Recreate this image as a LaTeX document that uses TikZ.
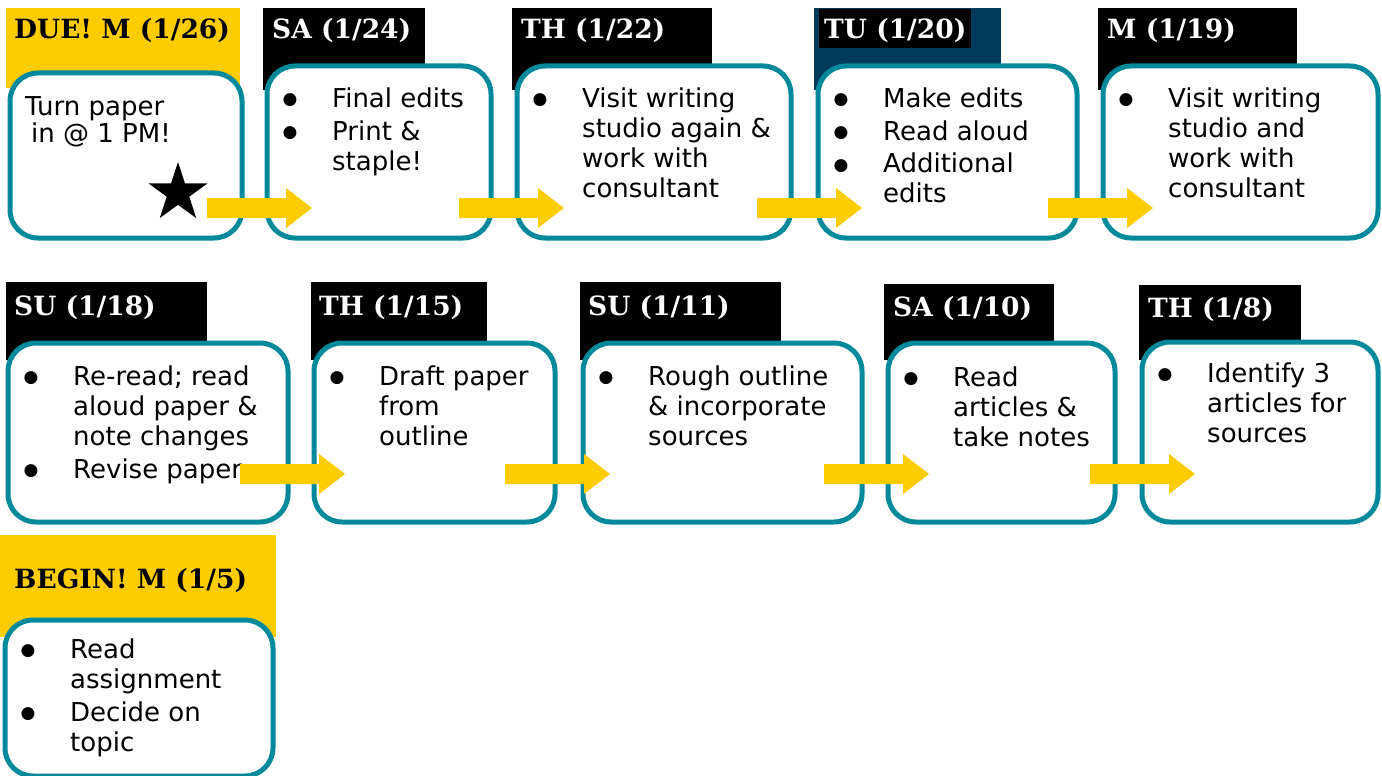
\documentclass[tikz,border=0pt]{standalone}
\usepackage{fontspec}
\usepackage{graphicx}
\setmainfont{DejaVu Sans}
\newfontfamily\hdrfont{DejaVu Serif}
\usetikzlibrary{shapes.geometric}
\definecolor{teal1}{RGB}{0,137,155}
\definecolor{yel}{RGB}{255,204,0}
\definecolor{navy1}{RGB}{0,59,92}
\newcommand{\nl}{\unskip\hfil\break}
\newcommand{\bigbul}{\hspace*{2.5pt}\raisebox{3pt}{\fontsize{17}{17}\selectfont ●}}
\newcommand{\bitem}[1]{\par\hangindent=52pt\hangafter=1\noindent\makebox[52pt][l]{\bigbul}#1}
\newcommand{\rectnode}[6]{\node[hdrrect, fill=#2, minimum width={#5-#3}, minimum height={#6-#4}] (#1) at (#3,#4) {};}
\newcommand{\tb}[5]{\node[tbox, minimum width={#4-#2-5}, minimum height={#5-#3-5}] (#1) at (#2+2.5,#3+2.5) {};}
\newcommand{\yarr}[3]{\coordinate (#1) at (#2,#3); \fill[yel] (#1) ++(0,-10) -- ++(79,0) -- ++(0,-10) -- ++(26,20) -- ++(-26,20) -- ++(0,-10) -- ++(-79,0) -- cycle;}
\newcommand{\btext}[4]{\node[bodytext] (#1) at (#2,#3) {\parbox[t]{320pt}{\raggedright\parskip=3pt #4}};}
\begin{document}
\begin{tikzpicture}[x=1pt,y=-1pt,
 tbox/.style={draw=teal1, line width=5pt, fill=white, rounded corners=28pt, inner sep=0pt, anchor=north west},
 hdrrect/.style={inner sep=0pt, anchor=north west, draw=none},
 hdrtext/.style={inner sep=0pt, anchor=base west, font=\hdrfont\bfseries\fontsize{26.5}{30}\selectfont},
 bodytext/.style={inner sep=0pt, anchor=base west, font=\fontsize{26}{30}\selectfont}
]
\useasboundingbox[fill=white] (0,0) rectangle (1382,776);
% ---- header backgrounds
\rectnode{h1}{yel}{6}{8}{240}{88}
\rectnode{h2}{black}{263}{8}{425}{90}
\rectnode{h3}{black}{512}{8}{712}{90}
\rectnode{h4}{navy1}{814}{8}{1001}{90}
\rectnode{h4b}{black}{819}{9}{971}{48}
\rectnode{h5}{black}{1098}{8}{1297}{90}
\rectnode{h6}{black}{6}{282}{207}{360}
\rectnode{h7}{black}{311}{282}{487}{360}
\rectnode{h8}{black}{580}{282}{781}{360}
\rectnode{h9}{black}{884}{284}{1054}{360}
\rectnode{h10}{black}{1139}{285}{1301}{360}
\rectnode{h11}{yel}{0}{535}{276}{637}
% ---- header texts
\node[hdrtext] (l1) at (14,39) {DUE! M (1/26)};
\node[hdrtext, text=white] (l2) at (272,39) {SA (1/24)};
\node[hdrtext, text=white] (l3) at (521,39) {TH (1/22)};
\node[hdrtext, text=white] (l4) at (824,39) {TU (1/20)};
\node[hdrtext, text=white] (l5) at (1107,39) {M (1/19)};
\node[hdrtext, text=white] (l6) at (14,315) {SU (1/18)};
\node[hdrtext, text=white] (l7) at (319,315) {TH (1/15)};
\node[hdrtext, text=white] (l8) at (588,315) {SU (1/11)};
\node[hdrtext, text=white] (l9) at (893,316) {SA (1/10)};
\node[hdrtext, text=white] (l10) at (1148,317) {TH (1/8)};
\node[hdrtext] (l11) at (14,588) {BEGIN! M (1/5)};
% ---- boxes
\tb{b1}{5}{68}{242}{238}
\tb{b2}{262}{61}{491}{238}
\tb{b3}{512}{61}{791}{238}
\tb{b4}{813}{61}{1077}{238}
\tb{b5}{1098}{61}{1378}{238}
\tb{b6}{3}{338}{288}{522}
\tb{b7}{309}{338}{555}{522}
\tb{b8}{578}{338}{862}{522}
\tb{b9}{883}{338}{1115}{522}
\tb{b10}{1137}{337}{1378}{522}
\tb{b11}{0}{615}{273}{776}
% ---- body texts
\node[bodytext] (t1) at (25,115) {\parbox[t]{220pt}{\raggedright\fontsize{26}{28}\selectfont Turn paper\nl\hspace*{6pt}in @ 1 PM!}};
\btext{t2}{280}{107}{\bitem{Final edits}\bitem{Print \&\nl staple!}}
\btext{t3}{530}{107}{\bitem{Visit writing\nl studio again \&\nl work with\nl consultant}}
\btext{t4}{831}{107}{\bitem{Make edits}\bitem{Read aloud}\bitem{Additional\nl edits}}
\btext{t5}{1116}{107}{\bitem{Visit writing\nl studio and\nl work with\nl consultant}}
\btext{t6}{21}{385}{\bitem{Re-read; read\nl aloud paper \&\nl note changes}\bitem{Revise paper}}
\btext{t7}{327}{385}{\bitem{Draft paper\nl from\nl outline}}
\btext{t8}{596}{385}{\bitem{Rough outline\nl \& incorporate\nl sources}}
\btext{t9}{901}{386}{\bitem{Read\nl articles \&\nl take notes}}
\btext{t10}{1155}{382}{\bitem{Identify 3\nl articles for\nl sources}}
\btext{t11}{18}{658}{\bitem{Read\nl assignment}\bitem{Decide on\nl topic}}
% ---- star
\node[star, star points=5, star point ratio=2.618, fill=black, minimum size=62pt, inner sep=0pt] (star) at (178,193) {};
% ---- arrows
\yarr{a1}{207}{208}
\yarr{a2}{459}{208}
\yarr{a3}{757}{208}
\yarr{a4}{1048}{208}
\yarr{a5}{240}{474}
\yarr{a6}{505}{474}
\yarr{a7}{824}{474}
\yarr{a8}{1090}{474}
\end{tikzpicture}
\end{document}
